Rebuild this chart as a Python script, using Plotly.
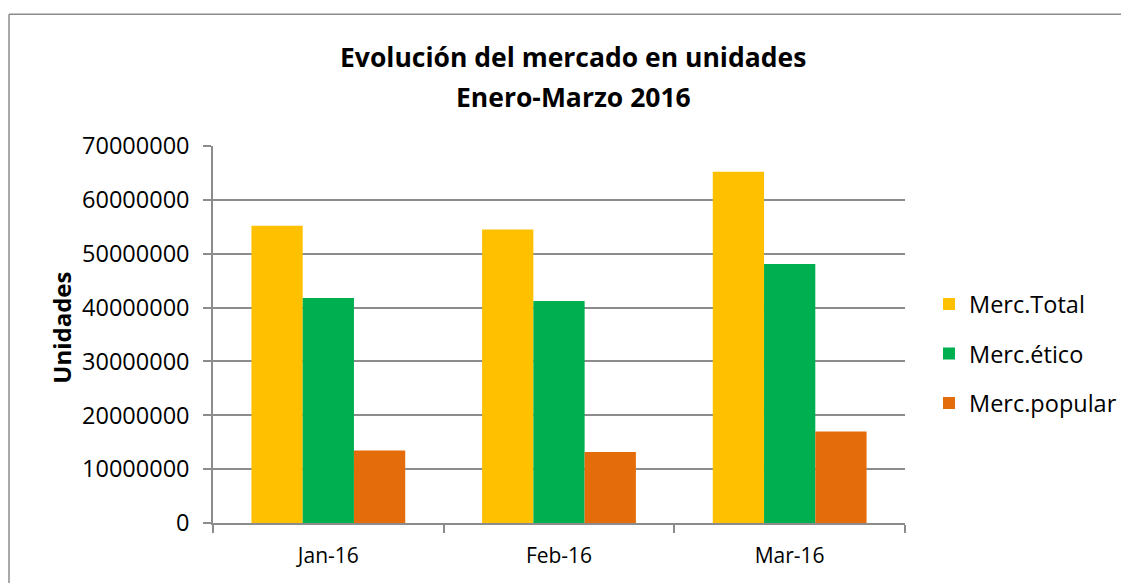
import plotly.graph_objects as go

categories = ["Jan-16", "Feb-16", "Mar-16"]
series_names = ["Merc.Total", "Merc.ético", "Merc.popular"]
merc_total = [55200000, 54500000, 65200000]
merc_etico = [41800000, 41200000, 48100000]
merc_popular = [13450000, 13200000, 17000000]
colors = ["#FFC000", "#00B050", "#E46C0A"]
y_ticks = [0, 10000000, 20000000, 30000000, 40000000, 50000000, 60000000, 70000000]

# page body has an 8px default margin; compensate
OFF = 8
W, H = 1129, 583
L, R, T, B = 213, 905, 146, 523.5

def px_x(x):
    return (x - L) / (R - L)

def px_y(y):
    return (B - y) / (B - T)

fig = go.Figure()
for i, (name, vals) in enumerate(zip(series_names, [merc_total, merc_etico, merc_popular])):
    fig.add_trace(go.Bar(
        x=categories, y=vals, name=name, marker_color=colors[i],
        marker_line_width=0, legendgroup=name,
    ))

font_family = "Open Sans, sans-serif"
grid_color = "#8C8C8C"

fig.update_layout(
    width=W - OFF, height=H - OFF,
    margin=dict(l=L - OFF, r=W - R, t=T - OFF, b=H - B, pad=0, autoexpand=False),
    paper_bgcolor="white", plot_bgcolor="white",
    barmode="group", bargap=1.5 / 4.5, bargroupgap=0,
    font=dict(family=font_family, size=23, color="black"),
    showlegend=True,
    legend=dict(
        x=px_x(929), xanchor="left", y=px_y(354), yanchor="middle",
        font=dict(size=23.5, family=font_family), tracegroupgap=16,
        bgcolor="rgba(0,0,0,0)", itemwidth=30,
    ),
    xaxis=dict(
        type="category", showgrid=False, showline=True, linecolor=grid_color,
        linewidth=1.5, ticks="outside", tickson="boundaries", ticklen=8,
        tickcolor=grid_color, tickwidth=1.5, tickfont=dict(size=21),
        ticklabelstandoff=13,
    ),
    yaxis=dict(
        range=[0, 70000000], tickvals=y_ticks,
        ticktext=[str(v) for v in y_ticks],
        showgrid=True, gridcolor=grid_color, gridwidth=1.5,
        showline=True, linecolor=grid_color, linewidth=1.5,
        ticks="outside", ticklen=8, tickcolor=grid_color, tickwidth=1.5,
        tickfont=dict(size=23.5), ticklabelstandoff=9, zeroline=False,
    ),
    annotations=[
        dict(text="<b>Evolución del mercado en unidades</b>", xref="paper", yref="paper",
             x=px_x(573), y=px_y(57), xanchor="center", yanchor="middle",
             showarrow=False, font=dict(size=26.5, family=font_family)),
        dict(text="<b>Enero-Marzo 2016</b>", xref="paper", yref="paper",
             x=px_x(573), y=px_y(97), xanchor="center", yanchor="middle",
             showarrow=False, font=dict(size=26.5, family=font_family)),
        dict(text="<b>Unidades</b>", xref="paper", yref="paper",
             x=px_x(62), y=px_y(328), xanchor="center", yanchor="middle",
             textangle=-90, showarrow=False, font=dict(size=24, family=font_family)),
    ],
    shapes=[
        dict(type="line", xref="paper", yref="paper", x0=px_x(9), x1=px_x(1135),
             y0=px_y(14), y1=px_y(14), line=dict(color=grid_color, width=1.5)),
        dict(type="line", xref="paper", yref="paper", x0=px_x(9), x1=px_x(9),
             y0=px_y(14), y1=px_y(600), line=dict(color=grid_color, width=1.5)),
    ],
)

fig.write_html("out.html")
